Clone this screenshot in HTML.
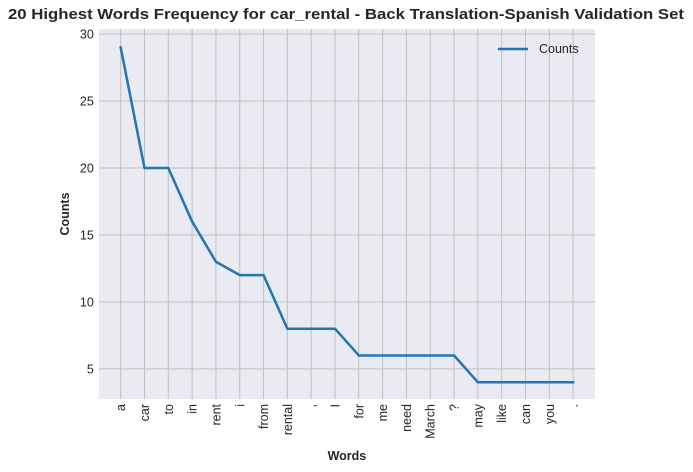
<!DOCTYPE html>
<html><head><meta charset="utf-8"><style>
html,body{margin:0;padding:0;background:#fff;}
svg{display:block;font-family:"Liberation Sans",Arial,sans-serif;}
</style></head><body>
<svg id="chart" width="693" height="472"></svg>
<script>
const categories = ["a","car","to","in","rent","i","from","rental",",","I","for","me","need","March","?","may","like","can","you","."];
const counts = [29,20,20,16,13,12,12,8,8,8,6,6,6,6,6,4,4,4,4,4];
const yTicks = [5,10,15,20,25,30];

const NS="http://www.w3.org/2000/svg";
const svg=document.getElementById('chart');
const L=98.8,R=595,T=29,B=399;
const xmin=-0.92,xmax=categories.length-1+0.92,ymin=2.75,ymax=30.38;
const xs=i=>L+(i-xmin)/(xmax-xmin)*(R-L);
const ys=v=>B-(v-ymin)/(ymax-ymin)*(B-T);
function mk(tag,attrs,parent){const e=document.createElementNS(NS,tag);for(const k in attrs)e.setAttribute(k,attrs[k]);(parent||svg).appendChild(e);return e;}

const bg=mk('rect',{x:L,y:T,width:R-L,height:B-T,fill:'#eaeaf2'});



categories.forEach((c,i)=>{
  const x=xs(i);
  const g=mk('line',{x1:x,x2:x,y1:T,y2:B,stroke:'#c0c0c0','stroke-width':1});
  
  
  const t=mk('text',{x:0,y:0,transform:`translate(${x+4.5},${B+5}) rotate(-90)`,'text-anchor':'end','font-size':12.5,fill:'#262626'});
  t.textContent=c;
  
  
});
yTicks.forEach(v=>{
  const y=ys(v);
  const g=mk('line',{x1:L,x2:R,y1:y,y2:y,stroke:'#c0c0c0','stroke-width':1});
  
  
  const t=mk('text',{x:L-5,y:y+4.5,'text-anchor':'end','font-size':12.5,fill:'#262626'});
  t.textContent=v;
  
  
});

const pts=counts.map((v,i)=>xs(i)+','+ys(v)).join(' ');
const line=mk('polyline',{points:pts,fill:'none',stroke:'#1f77b4','stroke-width':2.5,'stroke-linejoin':'round','stroke-linecap':'square'});



const title=mk('text',{x:8,y:19,'font-size':15,'font-weight':'bold',fill:'#262626',textLength:676,lengthAdjust:'spacingAndGlyphs'});
title.textContent='20 Highest Words Frequency for car_rental - Back Translation-Spanish Validation Set';



const yl=mk('text',{x:0,y:0,transform:`translate(69,${(T+B)/2}) rotate(-90)`,'text-anchor':'middle','font-size':12.5,'font-weight':'bold',fill:'#262626'});
yl.textContent='Counts';



const xl=mk('text',{x:(L+R)/2,y:460,'text-anchor':'middle','font-size':12.5,'font-weight':'bold',fill:'#262626'});
xl.textContent='Words';



const lg=mk('g',{});


mk('line',{x1:498,x2:528,y1:49,y2:49,stroke:'#1f77b4','stroke-width':2.5},lg);
const lt=mk('text',{x:539,y:53,'font-size':12.5,fill:'#262626'},lg);
lt.textContent='Counts';
</script>
</body></html>
